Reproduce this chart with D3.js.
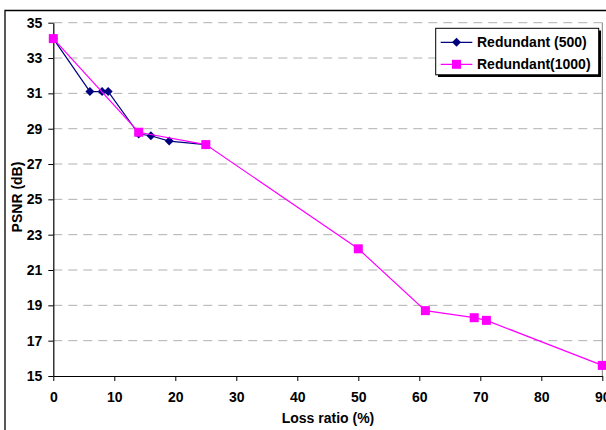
<!DOCTYPE html>
<html><head><meta charset="utf-8">
<script src="https://cdn.jsdelivr.net/npm/d3@7"></script>
<style>
html,body{margin:0;padding:0;background:#fff;}
svg{display:block;font-family:"Liberation Sans",Arial,sans-serif;font-weight:bold;}
</style></head>
<body>
<svg id="chart" width="606" height="430"></svg>
<script>
const xTicks = [0,10,20,30,40,50,60,70,80,90];
const yTicks = [15,17,19,21,23,25,27,29,31,33,35];
const seriesNames = ["Redundant (500)", "Redundant(1000)"];
const x500 = [0, 6, 8, 9, 14, 16, 19, 25];
const y500 = [34.1, 31.1, 31.1, 31.1, 28.7, 28.6, 28.3, 28.1];
const x1000 = [0, 14, 25, 50, 61, 69, 71, 90];
const y1000 = [34.1, 28.8, 28.1, 22.2, 18.7, 18.3, 18.15, 15.6];

const svg = d3.select("#chart");
const L = 53.3, R = 602.3, T = 22.7, B = 376;
const x = d3.scaleLinear().domain([0, 90]).range([L, R]);
const y = d3.scaleLinear().domain([15, 35]).range([B, T]);
const FONT = "Liberation Sans, Arial, sans-serif";

// outer chart border
svg.append("path").attr("d", "M5,432 L5,10.5 L608,10.5")
  .attr("fill", "none").attr("stroke", "#000").attr("stroke-width", 1.3);

// gridlines
svg.append("g").selectAll("line").data(yTicks.filter(d => d > 15)).join("line")
  .attr("x1", L).attr("x2", R).attr("y1", d => y(d)).attr("y2", d => y(d))
  .attr("stroke", "#b0b0b0").attr("stroke-width", 1).attr("stroke-dasharray", "9,6");

// plot right edge
svg.append("line").attr("x1", R).attr("x2", R).attr("y1", T).attr("y2", B)
  .attr("stroke", "#808080").attr("stroke-width", 1);

// axes
const xAxis = d3.axisBottom(x).tickValues(xTicks).tickSize(5).tickPadding(11).tickSizeOuter(0);
const gx = svg.append("g").attr("transform", `translate(0,${B})`).call(xAxis);
gx.select(".domain").attr("stroke", "#000").attr("stroke-width", 1.2);
gx.selectAll(".tick line").attr("stroke", "#000");
gx.selectAll("text").attr("font-size", 14).attr("font-weight", "bold").attr("fill", "#000")
  .attr("font-family", FONT);

const yAxis = d3.axisLeft(y).tickValues(yTicks).tickSize(5).tickPadding(6).tickSizeOuter(0);
const gy = svg.append("g").attr("transform", `translate(${L},0)`).call(yAxis);
gy.select(".domain").attr("stroke", "#000").attr("stroke-width", 1.2);
gy.selectAll(".tick line").attr("stroke", "#000");
gy.selectAll("text").attr("font-size", 14).attr("font-weight", "bold").attr("fill", "#000")
  .attr("font-family", FONT);

// axis titles
svg.append("text").attr("x", 328).attr("y", 423).attr("text-anchor", "middle")
  .attr("font-size", 14).text("Loss ratio (%)");
svg.append("text").attr("transform", `translate(22,197) rotate(-90)`)
  .attr("text-anchor", "middle").attr("font-size", 14).text("PSNR (dB)");

// series
const d500 = x500.map((v, i) => [v, y500[i]]);
const d1000 = x1000.map((v, i) => [v, y1000[i]]);
const line = d3.line().x(d => x(d[0])).y(d => y(d[1]));

const navy = "#000080", mag = "#ff00ff";
svg.append("path").datum(d500).attr("d", line).attr("fill", "none").attr("stroke", navy).attr("stroke-width", 1.2);
svg.append("g").selectAll("path").data(d500).join("path")
  .attr("transform", d => `translate(${x(d[0])},${y(d[1])}) rotate(45)`)
  .attr("d", d3.symbol().type(d3.symbolSquare).size(40)).attr("fill", navy);

svg.append("path").datum(d1000).attr("d", line).attr("fill", "none").attr("stroke", mag).attr("stroke-width", 1.2);
svg.append("g").selectAll("rect").data(d1000).join("rect")
  .attr("x", d => x(d[0]) - 4.5).attr("y", d => y(d[1]) - 4.5)
  .attr("width", 9).attr("height", 9).attr("fill", mag);

// legend
const lg = svg.append("g");
lg.append("rect").attr("x", 438).attr("y", 30.5).attr("width", 163).attr("height", 46.5).attr("fill", "#000");
lg.append("rect").attr("x", 435.7).attr("y", 28.3).attr("width", 163).attr("height", 46.5)
  .attr("fill", "#fff").attr("stroke", "#000").attr("stroke-width", 1);
const ly = [42.3, 64.3];
const lcol = [navy, mag];
seriesNames.forEach((name, i) => {
  lg.append("line").attr("x1", 440.7).attr("x2", 472.3).attr("y1", ly[i]).attr("y2", ly[i])
    .attr("stroke", lcol[i]).attr("stroke-width", 1.2);
  if (i === 0) {
    lg.append("path").attr("transform", `translate(456.5,${ly[i]}) rotate(45)`)
      .attr("d", d3.symbol().type(d3.symbolSquare).size(40)).attr("fill", navy);
  } else {
    lg.append("rect").attr("x", 452).attr("y", ly[i] - 4.5).attr("width", 9).attr("height", 9).attr("fill", mag);
  }
  lg.append("text").attr("x", 477).attr("y", ly[i] + 4.5).attr("font-size", 14).text(name);
});
</script>
</body></html>
